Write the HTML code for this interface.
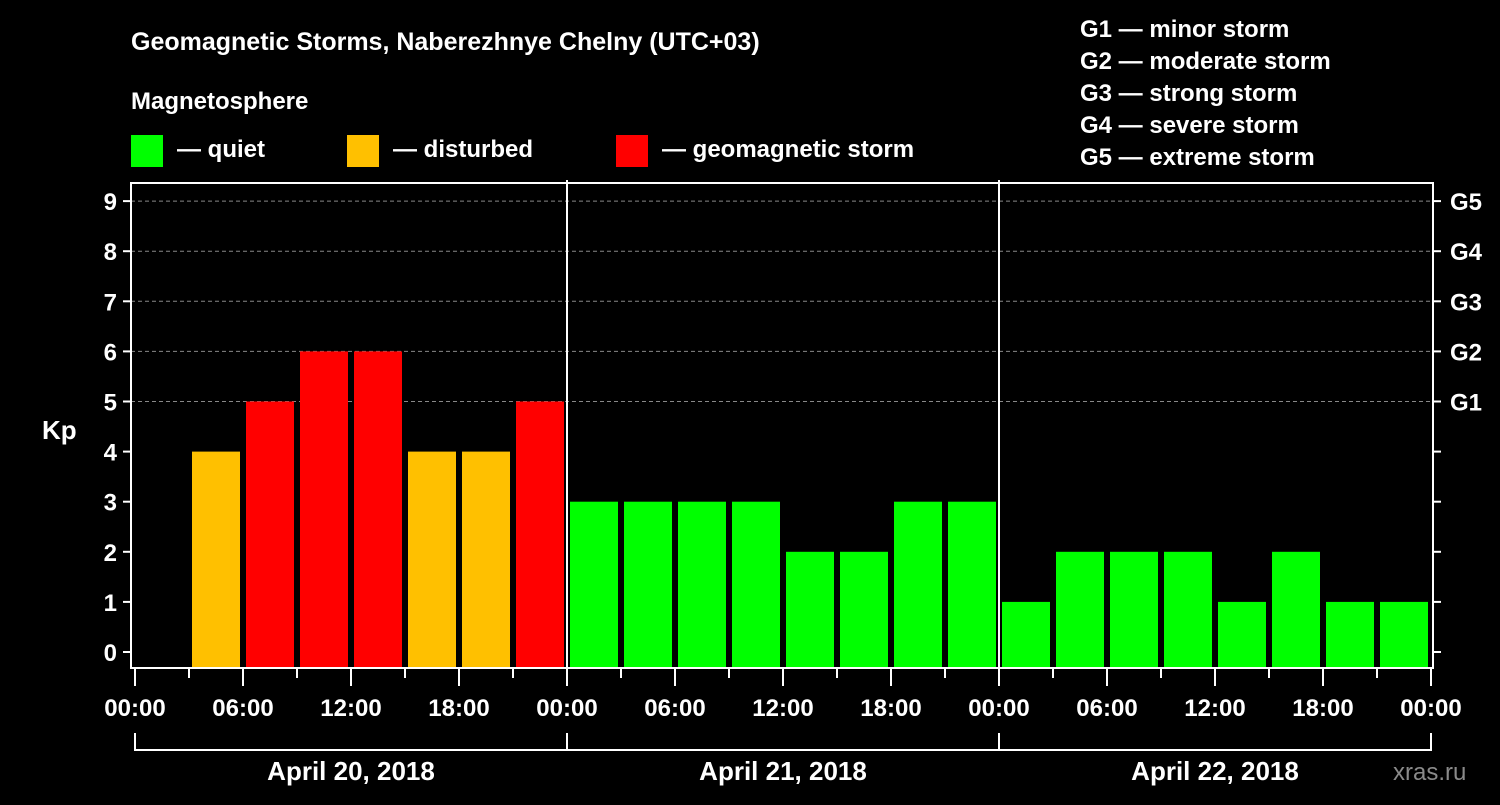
<!DOCTYPE html>
<html><head><meta charset="utf-8"><style>
body{margin:0;background:#000;width:1500px;height:800px;overflow:hidden}
text{font-family:"Liberation Sans",sans-serif;font-weight:bold;fill:#fff}
</style></head><body>
<svg id="chart" width="1500" height="800" xmlns="http://www.w3.org/2000/svg">
<rect width="1500" height="800" fill="#000"/>
<text x="131" y="50" font-size="25">Geomagnetic Storms, Naberezhnye Chelny (UTC+03)</text>
<text x="131" y="109" font-size="24">Magnetosphere</text>
<g><rect x="131" y="135" width="32" height="32" fill="#00ff00"/><text x="177" y="157" font-size="24">— quiet</text></g>
<g><rect x="347" y="135" width="32" height="32" fill="#ffc000"/><text x="393" y="157" font-size="24">— disturbed</text></g>
<g><rect x="616" y="135" width="32" height="32" fill="#ff0000"/><text x="662" y="157" font-size="24">— geomagnetic storm</text></g>
<g font-size="24">
<text x="1080" y="37">G1 — minor storm</text>
<text x="1080" y="69">G2 — moderate storm</text>
<text x="1080" y="101">G3 — strong storm</text>
<text x="1080" y="133">G4 — severe storm</text>
<text x="1080" y="165">G5 — extreme storm</text>
</g>
<text x="42" y="439" font-size="26">Kp</text>
<text x="1393" y="780" font-size="24" fill="#888" style="fill:#8a8a8a;font-weight:normal">xras.ru</text>
<g id="grid"></g><g id="bars"></g><g id="axes"></g>
</svg>
<script>
const kpValues = [null,4,5,6,6,4,4,5, 3,3,3,3,2,2,3,3, 1,2,2,2,1,2,1,1];
const yTicks = [0,1,2,3,4,5,6,7,8,9];
const gLabels = ["G1","G2","G3","G4","G5"];
const xTickLabels = ["00:00","06:00","12:00","18:00"];
const dayLabels = ["April 20, 2018","April 21, 2018","April 22, 2018"];
const NS="http://www.w3.org/2000/svg";
const L=131,R=1433,T=183,B=668,X0=135,DAY=432;
const y=v=>652-v*50.1;
const x=h=>X0+h*DAY/24;
function mk(tag,attrs,parent,text){const e=document.createElementNS(NS,tag);for(const k in attrs)e.setAttribute(k,attrs[k]);if(text!=null)e.textContent=text;document.getElementById(parent).appendChild(e);return e;}
function color(v){return v>=5?"#ff0000":v>=4?"#ffc000":"#00ff00";}
yTicks.forEach(v=>{
  if(v>=5){const g=mk("line",{x1:L,x2:R,y1:y(v),y2:y(v),stroke:"#888","stroke-dasharray":"4,3","stroke-width":1},"grid");
  
  }
});
kpValues.forEach((v,i)=>{
  if(v==null)return;
  const r=mk("rect",{x:x(i*3)+3,y:y(v),width:DAY/8-6,height:B-y(v),fill:color(v)},"bars");
  
  
});
mk("rect",{x:L,y:T,width:R-L,height:B-T,fill:"none",stroke:"#fff","stroke-width":2},"axes");
[1,2].forEach(d=>{const l=mk("line",{x1:x(24*d),x2:x(24*d),y1:T-3,y2:B,stroke:"#fff","stroke-width":2},"axes");

});
yTicks.forEach(v=>{
  mk("line",{x1:L-8,x2:L,y1:y(v),y2:y(v),stroke:"#fff","stroke-width":2},"axes");
  mk("line",{x1:R,x2:R+8,y1:y(v),y2:y(v),stroke:"#fff","stroke-width":2},"axes");
  const t=mk("text",{x:L-14,y:y(v)+9,"font-size":24,"text-anchor":"end"},"axes",String(v));
  
  
});
gLabels.forEach((g,i)=>{const t=mk("text",{x:1450,y:y(5+i)+9,"font-size":24},"axes",g);

});
for(let h=0;h<=72;h+=3){
  const major=h%6===0;
  mk("line",{x1:x(h),x2:x(h),y1:B,y2:B+(major?18:10),stroke:"#fff","stroke-width":2},"axes");
  if(major){const t=mk("text",{x:x(h),y:716,"font-size":24,"text-anchor":"middle"},"axes",xTickLabels[(h/6)%4]);
  
  }
}
dayLabels.forEach((d,i)=>{
  mk("path",{d:`M${x(24*i)} 733V750H${x(24*i+24)}`+(i==2?"V733":""),stroke:"#fff","stroke-width":2,fill:"none"},"axes");
  const t=mk("text",{x:x(24*i+12),y:780,"font-size":26,"text-anchor":"middle"},"axes",d);
  
  
});
</script>
</body></html>
